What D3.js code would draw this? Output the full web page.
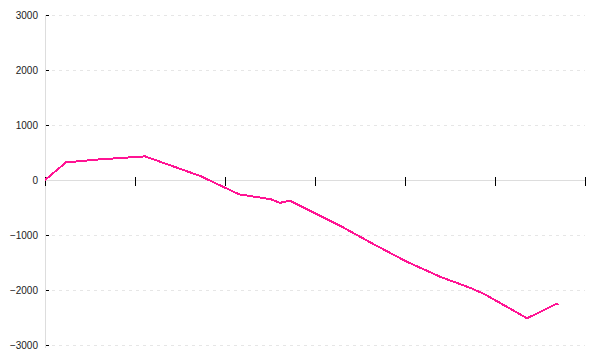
<!DOCTYPE html>
<html>
<head>
<meta charset="utf-8">
<script src="https://cdn.jsdelivr.net/npm/d3@7"></script>
<style>
  body { margin: 0; background: #fff; }
  .tick-label { font-family: "Liberation Sans", Arial, sans-serif; font-size: 10px; fill: #222; }
</style>
</head>
<body>
<svg id="chart" width="600" height="360"></svg>
<script>
// x positions are in tick units (no labels on the x axis)
const xValues = [0, 0.233, 0.611, 1.111, 1.722, 2.156, 2.511, 2.611, 2.722, 3.278, 3.648, 4.019, 4.389, 4.737, 4.889, 5.356, 5.678, 5.706];
const yValues = [0, 320, 375, 430, 75, -260, -350, -415, -375, -831, -1164, -1485, -1758, -1969, -2080, -2515, -2255, -2265];
const xTicks = [0, 1, 2, 3, 4, 5, 6];
const yTicks = [-3000, -2000, -1000, 0, 1000, 2000, 3000];

const width = 600;
const height = 360;
const margin = { top: 15, right: 15, bottom: 15, left: 45 };

const svg = d3.select("#chart");

const x = d3.scaleLinear()
  .domain([0, 6])
  .range([margin.left, width - margin.right]);

const y = d3.scaleLinear()
  .domain([-3000, 3000])
  .range([height - margin.bottom, margin.top]);

// dashed gridlines (skip zero, the x axis sits there)
svg.append("g")
  .selectAll("line")
  .data(yTicks.filter((d) => d !== 0))
  .enter()
  .append("line")
  .attr("x1", margin.left + 7)
  .attr("x2", width - margin.right)
  .attr("y1", (d) => y(d))
  .attr("y2", (d) => y(d))
  .attr("stroke", "#e6e6e6")
  .attr("stroke-dasharray", "3,4")
  .attr("shape-rendering", "crispEdges");

// y axis: black ticks crossing the axis, gray domain line on top
const yAxis = svg.append("g")
  .attr("transform", "translate(" + margin.left + ",0)")
  .call(
    d3.axisLeft(y)
      .tickValues(yTicks)
      .tickSizeInner(6)
      .tickSizeOuter(0)
      .tickPadding(1)
      .tickFormat(d3.format("d"))
  );
yAxis.select(".domain").remove();
yAxis.selectAll(".tick line")
  .attr("x2", 4)
  .attr("stroke", "#000")
  .attr("shape-rendering", "crispEdges");
yAxis.selectAll(".tick text")
  .attr("class", "tick-label")
  .attr("font-family", null)
  .attr("font-size", null);

svg.append("line")
  .attr("x1", margin.left)
  .attr("x2", margin.left)
  .attr("y1", margin.top)
  .attr("y2", height - margin.bottom + 3)
  .attr("stroke", "#ddd")
  .attr("shape-rendering", "crispEdges");

// x axis at y = 0, no labels
svg.append("line")
  .attr("x1", margin.left)
  .attr("x2", width - margin.right)
  .attr("y1", y(0))
  .attr("y2", y(0))
  .attr("stroke", "#ddd")
  .attr("shape-rendering", "crispEdges");

const xAxis = svg.append("g")
  .attr("transform", "translate(0," + y(0) + ")")
  .call(
    d3.axisBottom(x)
      .tickValues(xTicks)
      .tickSizeInner(6)
      .tickSizeOuter(0)
      .tickFormat("")
  );
xAxis.select(".domain").remove();
xAxis.selectAll(".tick line")
  .attr("y1", -3)
  .attr("stroke", "#000")
  .attr("shape-rendering", "crispEdges");

// the line
const points = xValues.map((d, i) => [d, yValues[i]]);

const line = d3.line()
  .x((d) => x(d[0]))
  .y((d) => y(d[1]));

svg.append("path")
  .datum(points)
  .attr("fill", "none")
  .attr("stroke", "#ff1493")
  .attr("stroke-width", 2)
  .attr("shape-rendering", "crispEdges")
  .attr("d", line);
</script>
</body>
</html>
